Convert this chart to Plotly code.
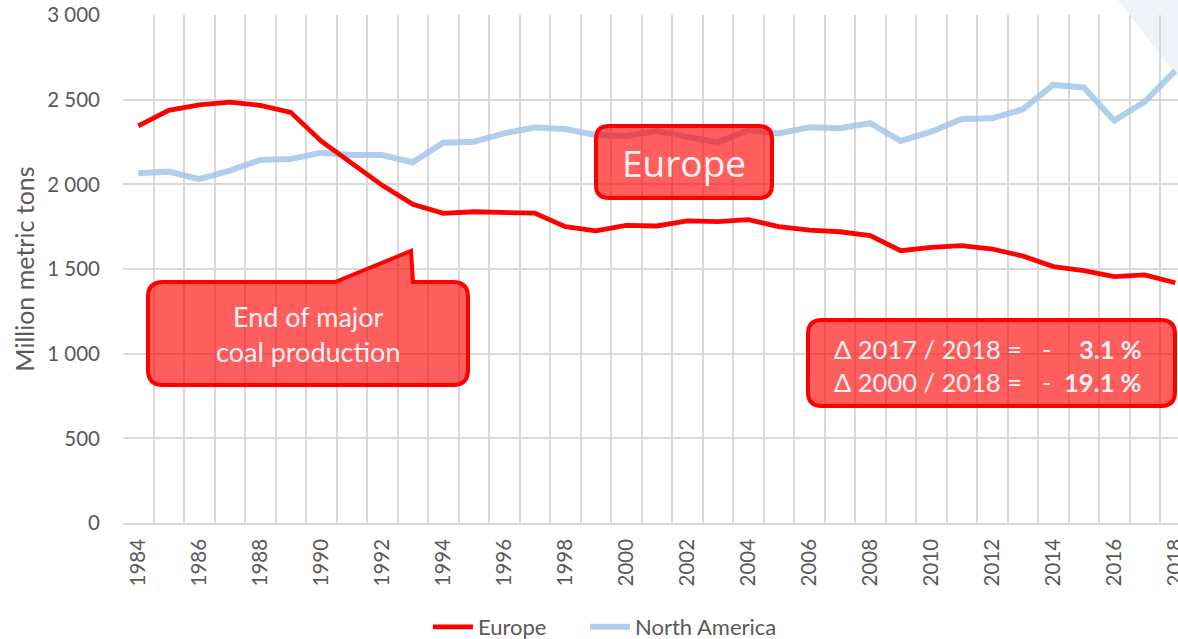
import plotly.graph_objects as go

# ---------------- data ----------------
years = list(range(1984, 2019))
europe = [2345, 2437, 2469, 2486, 2466, 2425, 2255, 2127, 1994, 1882,
          1829, 1838, 1834, 1830, 1750, 1725, 1758, 1754, 1784, 1780,
          1792, 1750, 1730, 1720, 1697, 1608, 1628, 1638, 1618, 1577,
          1514, 1490, 1455, 1465, 1419]
north_america = [2065, 2075, 2030, 2081, 2144, 2150, 2187, 2173, 2173, 2130,
                 2246, 2252, 2301, 2335, 2327, 2292, 2286, 2315, 2282, 2248,
                 2321, 2301, 2337, 2331, 2361, 2256, 2311, 2386, 2390, 2443,
                 2587, 2572, 2376, 2488, 2670]
x_tick_years = list(range(1984, 2019, 2))
y_tick_vals = [0, 500, 1000, 1500, 2000, 2500, 3000]
y_tick_text = ["0", "500", "1 000", "1 500", "2 000", "2 500", "3 000"]
series_names = ["Europe", "North America"]
box_title = "Europe"
callout_text = "End of major<br>coal production"
delta_left = ["Δ 2017 / 2018 =", "Δ 2000 / 2018 ="]
delta_vals = ["3.1 %", "19.1 %"]

# ---------------- geometry helpers ----------------
W, H = 1178, 639
L, R, T, B = 123, 1178, 15, 523   # plot area in pixels
PW, PH = R - L, B - T


def px(xp):
    return (xp - L) / PW


def py(yp):
    return (B - yp) / PH


def path_from(points_cmds):
    out = []
    for cmd, pts in points_cmds:
        seg = cmd + " ".join(f"{px(a):.5f},{py(b):.5f}" for a, b in pts)
        out.append(seg)
    return " ".join(out) + " Z"


def rounded_rect(x0, y0, x1, y1, r, pointer=None):
    cmds = [("M", [(x0 + r, y0)])]
    if pointer:
        for p in pointer:
            cmds.append(("L", [p]))
    cmds += [
        ("L", [(x1 - r, y0)]),
        ("Q", [(x1, y0), (x1, y0 + r)]),
        ("L", [(x1, y1 - r)]),
        ("Q", [(x1, y1), (x1 - r, y1)]),
        ("L", [(x0 + r, y1)]),
        ("Q", [(x0, y1), (x0, y1 - r)]),
        ("L", [(x0, y0 + r)]),
        ("Q", [(x0, y0), (x0 + r, y0)]),
    ]
    return path_from(cmds)


RED = "#FF0000"
BOX_FILL = "rgba(255,0,0,0.63)"
TXT_LIGHT = "#F2F2F2"
GRID = "#D9D9D9"
TICK = "#595959"

fig = go.Figure()
fig.add_trace(go.Scatter(
    x=years, y=north_america, mode="lines", name=series_names[1],
    line=dict(color="rgba(157,195,230,0.8)", width=6), legend="legend2"))
fig.add_trace(go.Scatter(
    x=years, y=europe, mode="lines", name=series_names[0],
    line=dict(color=RED, width=4.8), legend="legend"))

shapes = [
    dict(type="path", xref="paper", yref="paper", layer="below",
         path=path_from([("M", [(1118, 0)]), ("L", [(1180, 0)]), ("L", [(1180, 80)])]),
         fillcolor="#EEF3F7", line=dict(width=0)),
    dict(type="path", xref="paper", yref="paper", layer="above",
         path=rounded_rect(596, 126, 772, 198, 13),
         fillcolor=BOX_FILL, line=dict(color=RED, width=4)),
    dict(type="path", xref="paper", yref="paper", layer="above",
         path=rounded_rect(148, 282, 468, 385, 15,
                           pointer=[(335, 282), (411, 251), (413, 282)]),
         fillcolor=BOX_FILL, line=dict(color=RED, width=4)),
    dict(type="path", xref="paper", yref="paper", layer="above",
         path=rounded_rect(808, 320, 1175, 406, 14),
         fillcolor=BOX_FILL, line=dict(color=RED, width=4)),
]

annotations = [
    dict(text=box_title, x=px(684), y=py(162), xref="paper", yref="paper",
         showarrow=False, xanchor="center", yanchor="middle",
         font=dict(family="Open Sans", size=37, color=TXT_LIGHT)),
    dict(text=callout_text, x=px(308), y=py(334), xref="paper", yref="paper",
         showarrow=False, xanchor="center", yanchor="middle",
         font=dict(family="Lato", size=27, color=TXT_LIGHT)),
]
for i, yline in enumerate([349, 382]):
    annotations.append(dict(text=delta_left[i], x=px(832), y=py(yline),
                            xref="paper", yref="paper", showarrow=False,
                            xanchor="left", yanchor="middle",
                            font=dict(family="Lato", size=25.5, color=TXT_LIGHT)))
    annotations.append(dict(text="-", x=px(1046), y=py(yline),
                            xref="paper", yref="paper", showarrow=False,
                            xanchor="center", yanchor="middle",
                            font=dict(family="Lato", size=25.5, color=TXT_LIGHT)))
    annotations.append(dict(text=f"<b>{delta_vals[i]}</b>", x=px(1144), y=py(yline),
                            xref="paper", yref="paper", showarrow=False,
                            xanchor="right", yanchor="middle",
                            font=dict(family="Lato", size=25.5, color=TXT_LIGHT)))

legend_common = dict(orientation="h", xanchor="left", yanchor="middle",
                     font=dict(family="Lato", size=22, color=TICK),
                     itemwidth=40, bgcolor="rgba(0,0,0,0)", borderwidth=0)

fig.update_layout(
    width=W, height=H, autosize=False,
    margin=dict(l=L, r=W - R, t=T, b=H - B, pad=0, autoexpand=False),
    paper_bgcolor="white", plot_bgcolor="white",
    font=dict(family="Lato", color=TICK, size=20),
    shapes=shapes, annotations=annotations,
    showlegend=True,
    legend=dict(x=px(428), y=py(627), **legend_common),
    legend2=dict(x=px(585), y=py(627), **legend_common),
)
fig.update_xaxes(
    range=[1983.5, 2018.09], tickvals=x_tick_years, tickangle=-90,
    showgrid=False, zeroline=False, ticks="", ticklabelstandoff=6,
    ticklabeloverflow="allow",
    tickfont=dict(family="Lato", size=20.5, color=TICK),
    showline=True, linecolor=GRID, linewidth=1.5,
    minor=dict(tick0=1983.5, dtick=1, showgrid=True, gridcolor=GRID, gridwidth=1.5),
)
fig.update_yaxes(
    range=[0, 3000], tickvals=y_tick_vals, ticktext=y_tick_text,
    showgrid=True, gridcolor=GRID, gridwidth=1.5, zeroline=False,
    ticks="", ticklabelstandoff=22, ticklabeloverflow="allow",
    tickfont=dict(family="Lato", size=20.5, color=TICK),
    title=dict(text="Million metric tons", standoff=5,
               font=dict(family="Lato", size=25, color=TICK)),
)

# remove the default 8px page margin so the figure fills the window exactly
fig.write_html(
    "out.html",
    config={"displayModeBar": False},
    post_script="document.body.style.margin='0';"
                "document.documentElement.style.overflow='hidden';",
)
